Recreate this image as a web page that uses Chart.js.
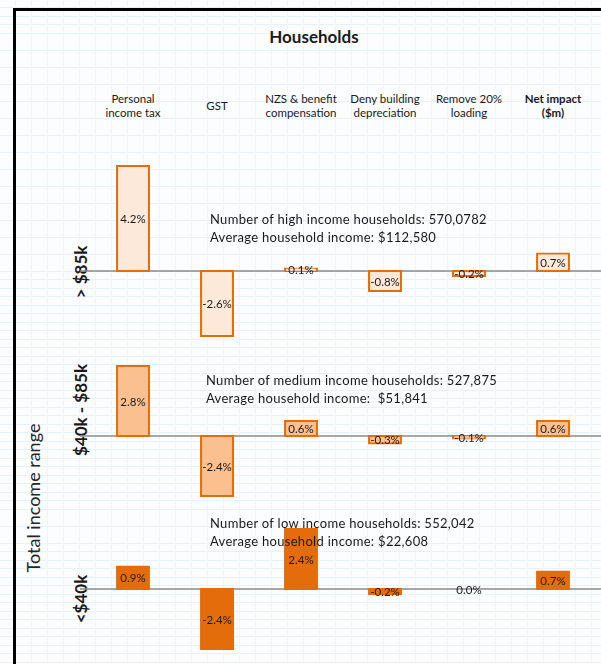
<!DOCTYPE html>
<html lang="en">
<head>
    <meta charset="UTF-8">
    <title>Households</title>
    <script src="https://cdn.jsdelivr.net/npm/chart.js"></script>
    <style>
        html, body {
            margin: 0;
            padding: 0;
            width: 601px;
            height: 664px;
            overflow: hidden;
            font-family: Lato, "Liberation Sans", sans-serif;
            color: #1a1a1a;
        }
        body {
            position: relative;
            background-color: #fbfdfe;
            background-image:
                repeating-linear-gradient(to right, transparent 0, transparent 15px, #eef6fa 15px, #eef6fa 16px),
                repeating-linear-gradient(to bottom, transparent 0, transparent 7.5px, #e6f2f8 7.5px, #e6f2f8 8.5px);
        }
        .frame {
            position: absolute;
            left: 13px;
            top: 8px;
            width: 700px;
            height: 800px;
            border-left: 3px solid #000;
            border-top: 3px solid #000;
        }
        .title {
            position: absolute;
            top: 26px;
            left: 214px;
            width: 200px;
            text-align: center;
            font-weight: bold;
            font-size: 17px;
        }
        .header {
            position: absolute;
            top: 92px;
            width: 100px;
            text-align: center;
            font-size: 11.5px;
            line-height: 14px;
        }
        .header.net { font-weight: bold; }
        .note {
            position: absolute;
            z-index: 2;
            font-size: 13px;
            letter-spacing: 0.3px;
            line-height: 18px;
            white-space: pre;
        }
        .row-label {
            position: absolute;
            font-weight: bold;
            font-size: 17px;
            white-space: nowrap;
            transform: translate(-50%, -50%) rotate(-90deg);
        }
        .axis-title {
            position: absolute;
            left: 33px;
            top: 498px;
            font-size: 18px;
            color: #262626;
            white-space: nowrap;
            transform: translate(-50%, -50%) rotate(-90deg);
        }
        canvas.panel {
            position: absolute;
            left: 80px;
            z-index: 1;
        }
    </style>
</head>
<body>
    <div class="frame"></div>
    <div class="title">Households</div>
    <div id="headers"></div>

    <div class="note" style="left:210px; top:210px;">Number of high income households: 570,0782
Average household income: $112,580</div>
    <div class="note" style="left:206px; top:371px;">Number of medium income households: 527,875
Average household income:  $51,841</div>
    <div class="note" style="left:210px; top:514px;">Number of low income households: 552,042
Average household income: $22,608</div>

    <div class="row-label" style="left:80px; top:272px;">&gt; $85k</div>
    <div class="row-label" style="left:80px; top:410px;">$40k - $85k</div>
    <div class="row-label" style="left:80px; top:599px;">&lt;$40k</div>
    <div class="axis-title">Total income range</div>

    <canvas class="panel" id="high" width="521" height="215" style="top:130px;"></canvas>
    <canvas class="panel" id="medium" width="521" height="160" style="top:345px;"></canvas>
    <canvas class="panel" id="low" width="521" height="159" style="top:505px;"></canvas>

    <script>
        const categories = [
            ['Personal', 'income tax'],
            ['GST'],
            ['NZS & benefit', 'compensation'],
            ['Deny building', 'depreciation'],
            ['Remove 20%', 'loading'],
            ['Net impact', '($m)']
        ];
        // change as % of household income, by income band
        const highIncome = [4.2, -2.6, 0.1, -0.8, -0.2, 0.7];
        const mediumIncome = [2.8, -2.4, 0.6, -0.3, -0.1, 0.6];
        const lowIncome = [0.9, -2.4, 2.4, -0.2, 0.0, 0.7];

        // column headings above the bars
        const headerCentres = [133, 217, 301, 385, 469, 553];
        const headers = document.getElementById('headers');
        categories.forEach((lines, i) => {
            const el = document.createElement('div');
            el.className = 'header' + (i === categories.length - 1 ? ' net' : '');
            el.style.left = (headerCentres[i] - 50) + 'px';
            el.style.top = lines.length === 1 ? '99px' : '92px';
            el.innerHTML = lines.join('<br>');
            headers.appendChild(el);
        });

        // grey baseline through zero plus the value in the middle of each bar
        const panelDecor = {
            id: 'panelDecor',
            beforeDatasetsDraw(chart) {
                const ctx = chart.ctx;
                const y0 = chart.scales.y.getPixelForValue(0);
                ctx.save();
                ctx.strokeStyle = '#8a8a8a';
                ctx.lineWidth = 1.5;
                ctx.beginPath();
                ctx.moveTo(0, y0);
                ctx.lineTo(chart.width, y0);
                ctx.stroke();
                ctx.restore();
            },
            afterDatasetsDraw(chart) {
                const ctx = chart.ctx;
                const meta = chart.getDatasetMeta(0);
                const values = chart.data.datasets[0].data;
                ctx.save();
                ctx.font = '11.5px Lato, "Liberation Sans", sans-serif';
                ctx.fillStyle = '#1a1a1a';
                ctx.textAlign = 'center';
                ctx.textBaseline = 'middle';
                meta.data.forEach((bar, i) => {
                    const mid = (bar.y + bar.base) / 2;
                    ctx.fillText(values[i].toFixed(1) + '%', bar.x, mid + 1);
                });
                ctx.restore();
            }
        };

        function makePanel(id, values, fill, yMin, yMax) {
            const ctx = document.getElementById(id).getContext('2d');
            return new Chart(ctx, {
                type: 'bar',
                data: {
                    labels: categories,
                    datasets: [{
                        data: values,
                        backgroundColor: fill,
                        borderColor: '#e46c0a',
                        borderWidth: 2,
                        borderSkipped: false,
                        inflateAmount: 1,
                        barPercentage: 0.38,
                        categoryPercentage: 1
                    }]
                },
                options: {
                    responsive: false,
                    animation: false,
                    layout: { padding: { left: 11, right: 6, top: 0, bottom: 0 } },
                    plugins: {
                        legend: { display: false },
                        title: { display: false },
                        tooltip: { enabled: false }
                    },
                    scales: {
                        x: { display: false },
                        y: { display: false, min: yMin, max: yMax }
                    }
                },
                plugins: [panelDecor]
            });
        }

        makePanel('high', highIncome, '#fde9d9', -2.96, 5.64);
        makePanel('medium', mediumIncome, '#fac090', -2.76, 3.64);
        makePanel('low', lowIncome, '#e46c0a', -3.0, 3.36);
    </script>
</body>
</html>
